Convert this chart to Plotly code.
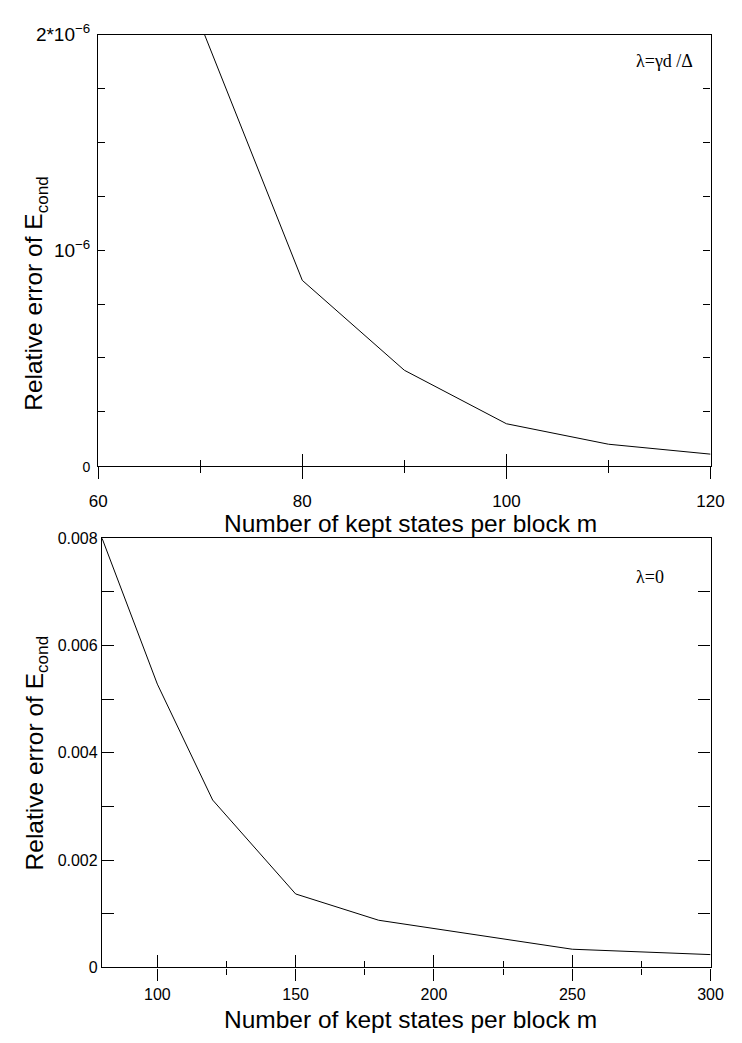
import plotly.graph_objects as go

# Convergence of the condensation-energy error with the number of kept states
m_lambda_gd = [70, 80, 90, 100, 110, 120]
err_lambda_gd = [2.05e-6, 0.86e-6, 0.443e-6, 0.195e-6, 0.10e-6, 0.054e-6]

m_lambda_0 = [80, 100, 120, 150, 180, 250, 300]
err_lambda_0 = [0.0080, 0.00528, 0.00312, 0.00137, 0.00088, 0.00034, 0.00024]

top_y_ticks = [0, 1e-6, 2e-6]
top_y_labels = ['<span style="font-size:14px">0</span>',
                "10<sup>\u22126</sup>", "2*10<sup>\u22126</sup>"]
top_x_ticks = [60, 80, 100, 120]
bot_y_ticks = [0, 0.002, 0.004, 0.006, 0.008]
bot_y_labels = ["0", "0.002", "0.004", "0.006", "0.008"]
bot_x_ticks = [100, 150, 200, 250, 300]

W, H = 742, 1043
FONT = "Liberation Sans, Arial, sans-serif"
SERIF = "Liberation Serif, Times New Roman, serif"


def px(x):
    return x / W


def py(y):
    return 1 - y / H


fig = go.Figure()

line = dict(color="black", width=1)
fig.add_trace(go.Scatter(x=m_lambda_gd, y=err_lambda_gd, mode="lines", line=line,
                         xaxis="x", yaxis="y", showlegend=False, hoverinfo="skip"))
fig.add_trace(go.Scatter(x=m_lambda_gd, y=err_lambda_gd, mode="lines", line=line,
                         opacity=0, xaxis="x3", yaxis="y", showlegend=False, hoverinfo="skip"))
fig.add_trace(go.Scatter(x=m_lambda_0, y=err_lambda_0, mode="lines", line=line,
                         xaxis="x2", yaxis="y2", showlegend=False, hoverinfo="skip"))
fig.add_trace(go.Scatter(x=m_lambda_0, y=err_lambda_0, mode="lines", line=line,
                         opacity=0, xaxis="x4", yaxis="y2", showlegend=False, hoverinfo="skip"))

axline = dict(showline=True, linecolor="black", linewidth=1.3, showgrid=False,
              zeroline=False, tickcolor="black", tickwidth=1)

top_dom_x = [px(92), px(724)]
top_dom_y = [py(463), py(22)]
bot_dom_x = [px(96), px(724)]
bot_dom_y = [py(976), py(537)]

fig.update_layout(
    width=W, height=H,
    margin=dict(l=0, r=0, t=0, b=0),
    paper_bgcolor="white", plot_bgcolor="white",
    # top panel
    xaxis=dict(domain=top_dom_x, anchor="y", range=[60, 120], tickvals=top_x_ticks,
               ticks="outside", ticklen=12, mirror=True, ticklabelstandoff=8,
               tickfont=dict(family=FONT, size=17, color="black"),
               minor=dict(tickvals=[70, 90, 110], ticks="outside", ticklen=6,
                          tickcolor="black", tickwidth=1),
               **axline),
    xaxis3=dict(overlaying="x", anchor="y", range=[60, 120], tickvals=top_x_ticks,
                ticks="inside", ticklen=12, showticklabels=False, showline=False,
                showgrid=False, zeroline=False, tickcolor="black", tickwidth=1,
                minor=dict(tickvals=[70, 90, 110], ticks="inside", ticklen=6,
                           tickcolor="black", tickwidth=1)),
    yaxis=dict(domain=top_dom_y, anchor="x", range=[0, 2e-6], tickvals=top_y_ticks,
               ticktext=top_y_labels, ticks="inside", ticklen=7, mirror="allticks",
               ticklabelstandoff=3,
               tickfont=dict(family=FONT, size=19, color="black"),
               minor=dict(tickvals=[0.25e-6, 0.5e-6, 0.75e-6, 1.25e-6, 1.5e-6, 1.75e-6],
                          ticks="inside", ticklen=7, tickcolor="black", tickwidth=1),
               **axline),
    # bottom panel
    xaxis2=dict(domain=bot_dom_x, anchor="y2", range=[80, 300], tickvals=bot_x_ticks,
                ticks="outside", ticklen=12, mirror=True,
                tickfont=dict(family=FONT, size=16, color="black"),
                minor=dict(tickvals=[125, 175, 225, 275], ticks="outside", ticklen=6,
                           tickcolor="black", tickwidth=1),
                **axline),
    xaxis4=dict(overlaying="x2", anchor="y2", range=[80, 300], tickvals=bot_x_ticks,
                ticks="inside", ticklen=12, showticklabels=False, showline=False,
                showgrid=False, zeroline=False, tickcolor="black", tickwidth=1,
                minor=dict(tickvals=[125, 175, 225, 275], ticks="inside", ticklen=6,
                           tickcolor="black", tickwidth=1)),
    yaxis2=dict(domain=bot_dom_y, anchor="x2", range=[0, 0.008], tickvals=bot_y_ticks,
                ticktext=bot_y_labels, ticks="inside", ticklen=12, mirror="allticks",
                tickfont=dict(family=FONT, size=16, color="black"),
                minor=dict(tickvals=[0.001, 0.003, 0.005, 0.007], ticks="inside",
                           ticklen=6, tickcolor="black", tickwidth=1),
                **axline),
)

title_font = dict(family=FONT, size=24.5, color="black")
x_title = "Number of kept states per block m"
y_title = "Relative error of E<sub>cond</sub>"

fig.add_annotation(text=x_title, xref="paper", yref="paper", x=px(414), y=py(522),
                   xanchor="center", yanchor="middle", showarrow=False, font=title_font)
fig.add_annotation(text=x_title, xref="paper", yref="paper", x=px(414), y=py(1029),
                   xanchor="center", yanchor="middle", showarrow=False, font=title_font)
fig.add_annotation(text=y_title, xref="paper", yref="paper", x=px(28), y=py(287),
                   xanchor="center", yanchor="middle", textangle=-90, showarrow=False,
                   font=title_font)
fig.add_annotation(text=y_title, xref="paper", yref="paper", x=px(28), y=py(757),
                   xanchor="center", yanchor="middle", textangle=-90, showarrow=False,
                   font=title_font)

label_font = dict(family=SERIF, size=18, color="black")
fig.add_annotation(text="\u03bb=\u03b3d /\u0394", xref="paper", yref="paper",
                   x=px(676), y=py(49), xanchor="center", yanchor="middle",
                   showarrow=False, font=label_font)
fig.add_annotation(text="\u03bb=0", xref="paper", yref="paper",
                   x=px(662), y=py(577), xanchor="center", yanchor="middle",
                   showarrow=False, font=label_font)

fig.write_html("out.html")
